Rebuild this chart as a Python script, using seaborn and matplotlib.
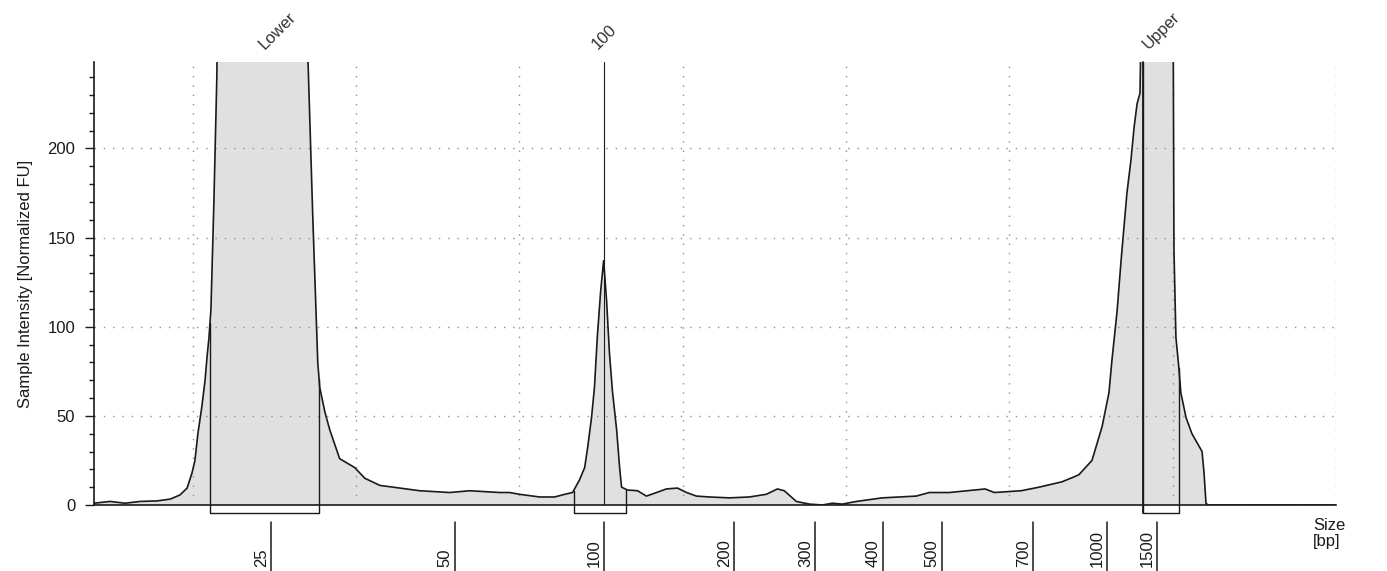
import numpy as np
import matplotlib
matplotlib.use("Agg")
import matplotlib.pyplot as plt
import matplotlib.transforms as mtransforms
from matplotlib.ticker import MultipleLocator
import seaborn as sns

# electropherogram trace (migration time [s], intensity [FU]); values > axis top are clipped peaks
time_s = [16.98, 17.47, 17.93, 18.39, 18.91, 19.31, 19.61, 19.83, 19.98, 20.07,
          20.16, 20.28, 20.38, 20.44, 20.50, 20.56, 20.65, 20.74, 20.83, 23.46,
          23.53, 23.68, 23.83, 23.89, 24.05, 24.20, 24.50, 24.96, 25.27, 25.73,
          26.34, 26.95, 27.87, 28.48, 29.40, 29.70, 30.01, 30.62, 31.08, 31.39,
          31.63, 31.72, 31.84, 32.00, 32.09, 32.21, 32.30, 32.39, 32.49, 32.58,
          32.67, 32.76, 32.85, 32.98, 33.07, 33.13, 33.31, 33.62, 33.89, 34.20,
          34.50, 34.84, 35.12, 35.42, 35.82, 36.43, 37.04, 37.56, 37.90, 38.11,
          38.48, 38.88, 39.28, 39.58, 39.89, 40.32, 41.11, 42.15, 42.55, 43.16,
          43.71, 44.26, 44.54, 45.36, 45.91, 46.61, 47.01, 47.13, 47.53, 47.84,
          48.05, 48.14, 48.30, 48.42, 48.51, 48.60, 48.72, 48.82, 48.91, 49.00,
          49.06, 50.01, 50.04, 50.10, 50.19, 50.25, 50.41, 50.59, 50.90, 50.96,
          51.02, 51.08, 54.96]
intensity = [1, 2, 1, 2, 2.3, 3.3, 5.6, 9.5, 18, 25,
             40, 55, 70, 83, 94, 110, 170, 240, 400, 400,
             250, 160, 80, 66, 52, 42, 26, 21, 15, 11,
             9.5, 8, 7, 8, 7, 7, 6, 4.5, 4.5, 6,
             7, 10, 14, 21, 32, 49, 66, 95, 120, 137,
             115, 85, 64, 42, 21, 10, 8.4, 8, 5, 7,
             9, 9.5, 7, 5, 4.5, 4, 4.5, 6, 9, 8,
             2, 0.5, 0, 1, 0.5, 2, 4, 5, 7, 7,
             8, 9, 7, 8, 10, 13, 16, 17, 25, 44,
             63, 81, 109, 137, 156, 175, 193, 212, 225, 231,
             300, 300, 143, 94, 77, 63, 49, 40, 30, 18,
             1, 0, 0]

# ladder sizes and where they sit on the time axis
ladder_sizes = ["25", "50", "100", "200", "300", "400", "500", "700", "1000", "1500"]
ladder_times = [22.39, 28.02, 32.58, 36.58, 39.06, 41.13, 42.93, 45.72, 47.99, 49.53]

# peak labels and integration regions
peak_names = ["Lower", "100", "Upper"]
peak_times = [22.21, 32.39, 49.27]
marker_times = [32.58, 49.09]
region_starts = [20.53, 31.66, 49.09]
region_ends = [23.87, 33.28, 50.19]

sns.set_theme(style="white")
plt.rcParams["font.family"] = ["Liberation Sans", "DejaVu Sans"]

ink = "#1a1a1a"
y_top = 248.5
br = -4.5  # bracket depth below baseline

fig = plt.figure(figsize=(13.87, 5.71), dpi=100)
ax = fig.add_axes([94 / 1387, 66 / 571, 1242 / 1387, 443 / 571])

ax.fill_between(time_s, intensity, 0, color="#e0e0e0", lw=0, zorder=1)
sns.lineplot(x=time_s, y=intensity, ax=ax, color=ink, lw=1.2,
             estimator=None, sort=False, zorder=3)

ax.set_xlim(16.98, 54.96)
ax.set_ylim(0, y_top)

# dotted grid
ax.set_xticks(np.arange(20, 56, 5))
ax.set_yticks([0, 50, 100, 150, 200])
ax.yaxis.set_minor_locator(MultipleLocator(10))
ax.set_axisbelow(False)
ax.grid(True, which="major", color="#8f8f8f", ls=(0, (1, 5.7)), lw=1)
ax.tick_params(axis="x", length=0, labelbottom=False)
ax.tick_params(axis="y", which="major", left=True, length=6.5, width=1,
               direction="out", pad=7, labelsize=12, color=ink, labelcolor=ink)
ax.tick_params(axis="y", which="minor", left=True, length=3.5, width=1,
               direction="out", color=ink)
ax.set_ylabel("Sample Intensity [Normalized FU]", fontsize=12, labelpad=10,
              color=ink)

for s in ["top", "right"]:
    ax.spines[s].set_visible(False)
for s in ["left", "bottom"]:
    ax.spines[s].set_color(ink)
    ax.spines[s].set_linewidth(1.2)
    ax.spines[s].set_zorder(4)

# integration brackets below the baseline
for s, e in zip(region_starts, region_ends):
    ys = min(np.interp(s, time_s, intensity), y_top)
    ye = min(np.interp(e, time_s, intensity), y_top)
    ax.plot([s, s, e, e], [ys, br, br, ye],
            color=ink, lw=1, clip_on=False, zorder=4)

# marker lines
for m in marker_times:
    ax.plot([m, m], [br if m > 40 else 0, y_top], color=ink,
            lw=1.3 if m > 40 else 0.8, zorder=4, clip_on=False)

# peak labels
for name, t in zip(peak_names, peak_times):
    ax.annotate(name, xy=(t, 1), xycoords=("data", "axes fraction"),
                xytext=(0, 9), textcoords="offset points", rotation=45,
                rotation_mode="anchor", ha="left", va="baseline", fontsize=12,
                color="#333333", annotation_clip=False)

# size ladder under the axis
trans = mtransforms.blended_transform_factory(ax.transData, ax.transAxes)
for lab, t in zip(ladder_sizes, ladder_times):
    ax.plot([t, t], [-0.0384, -0.17], transform=trans, color=ink, lw=1.1,
            clip_on=False)
    ax.annotate(lab, xy=(t, -0.140), xycoords=trans, xytext=(-1.5, 0),
                textcoords="offset points", rotation=90, ha="right",
                va="bottom", fontsize=12, color=ink, annotation_clip=False)

ax.text(0.9815, -0.029, "Size\n[bp]", transform=ax.transAxes, ha="left",
        va="top", fontsize=12, color=ink, linespacing=1.1)

fig.savefig("out.png", dpi=100)
